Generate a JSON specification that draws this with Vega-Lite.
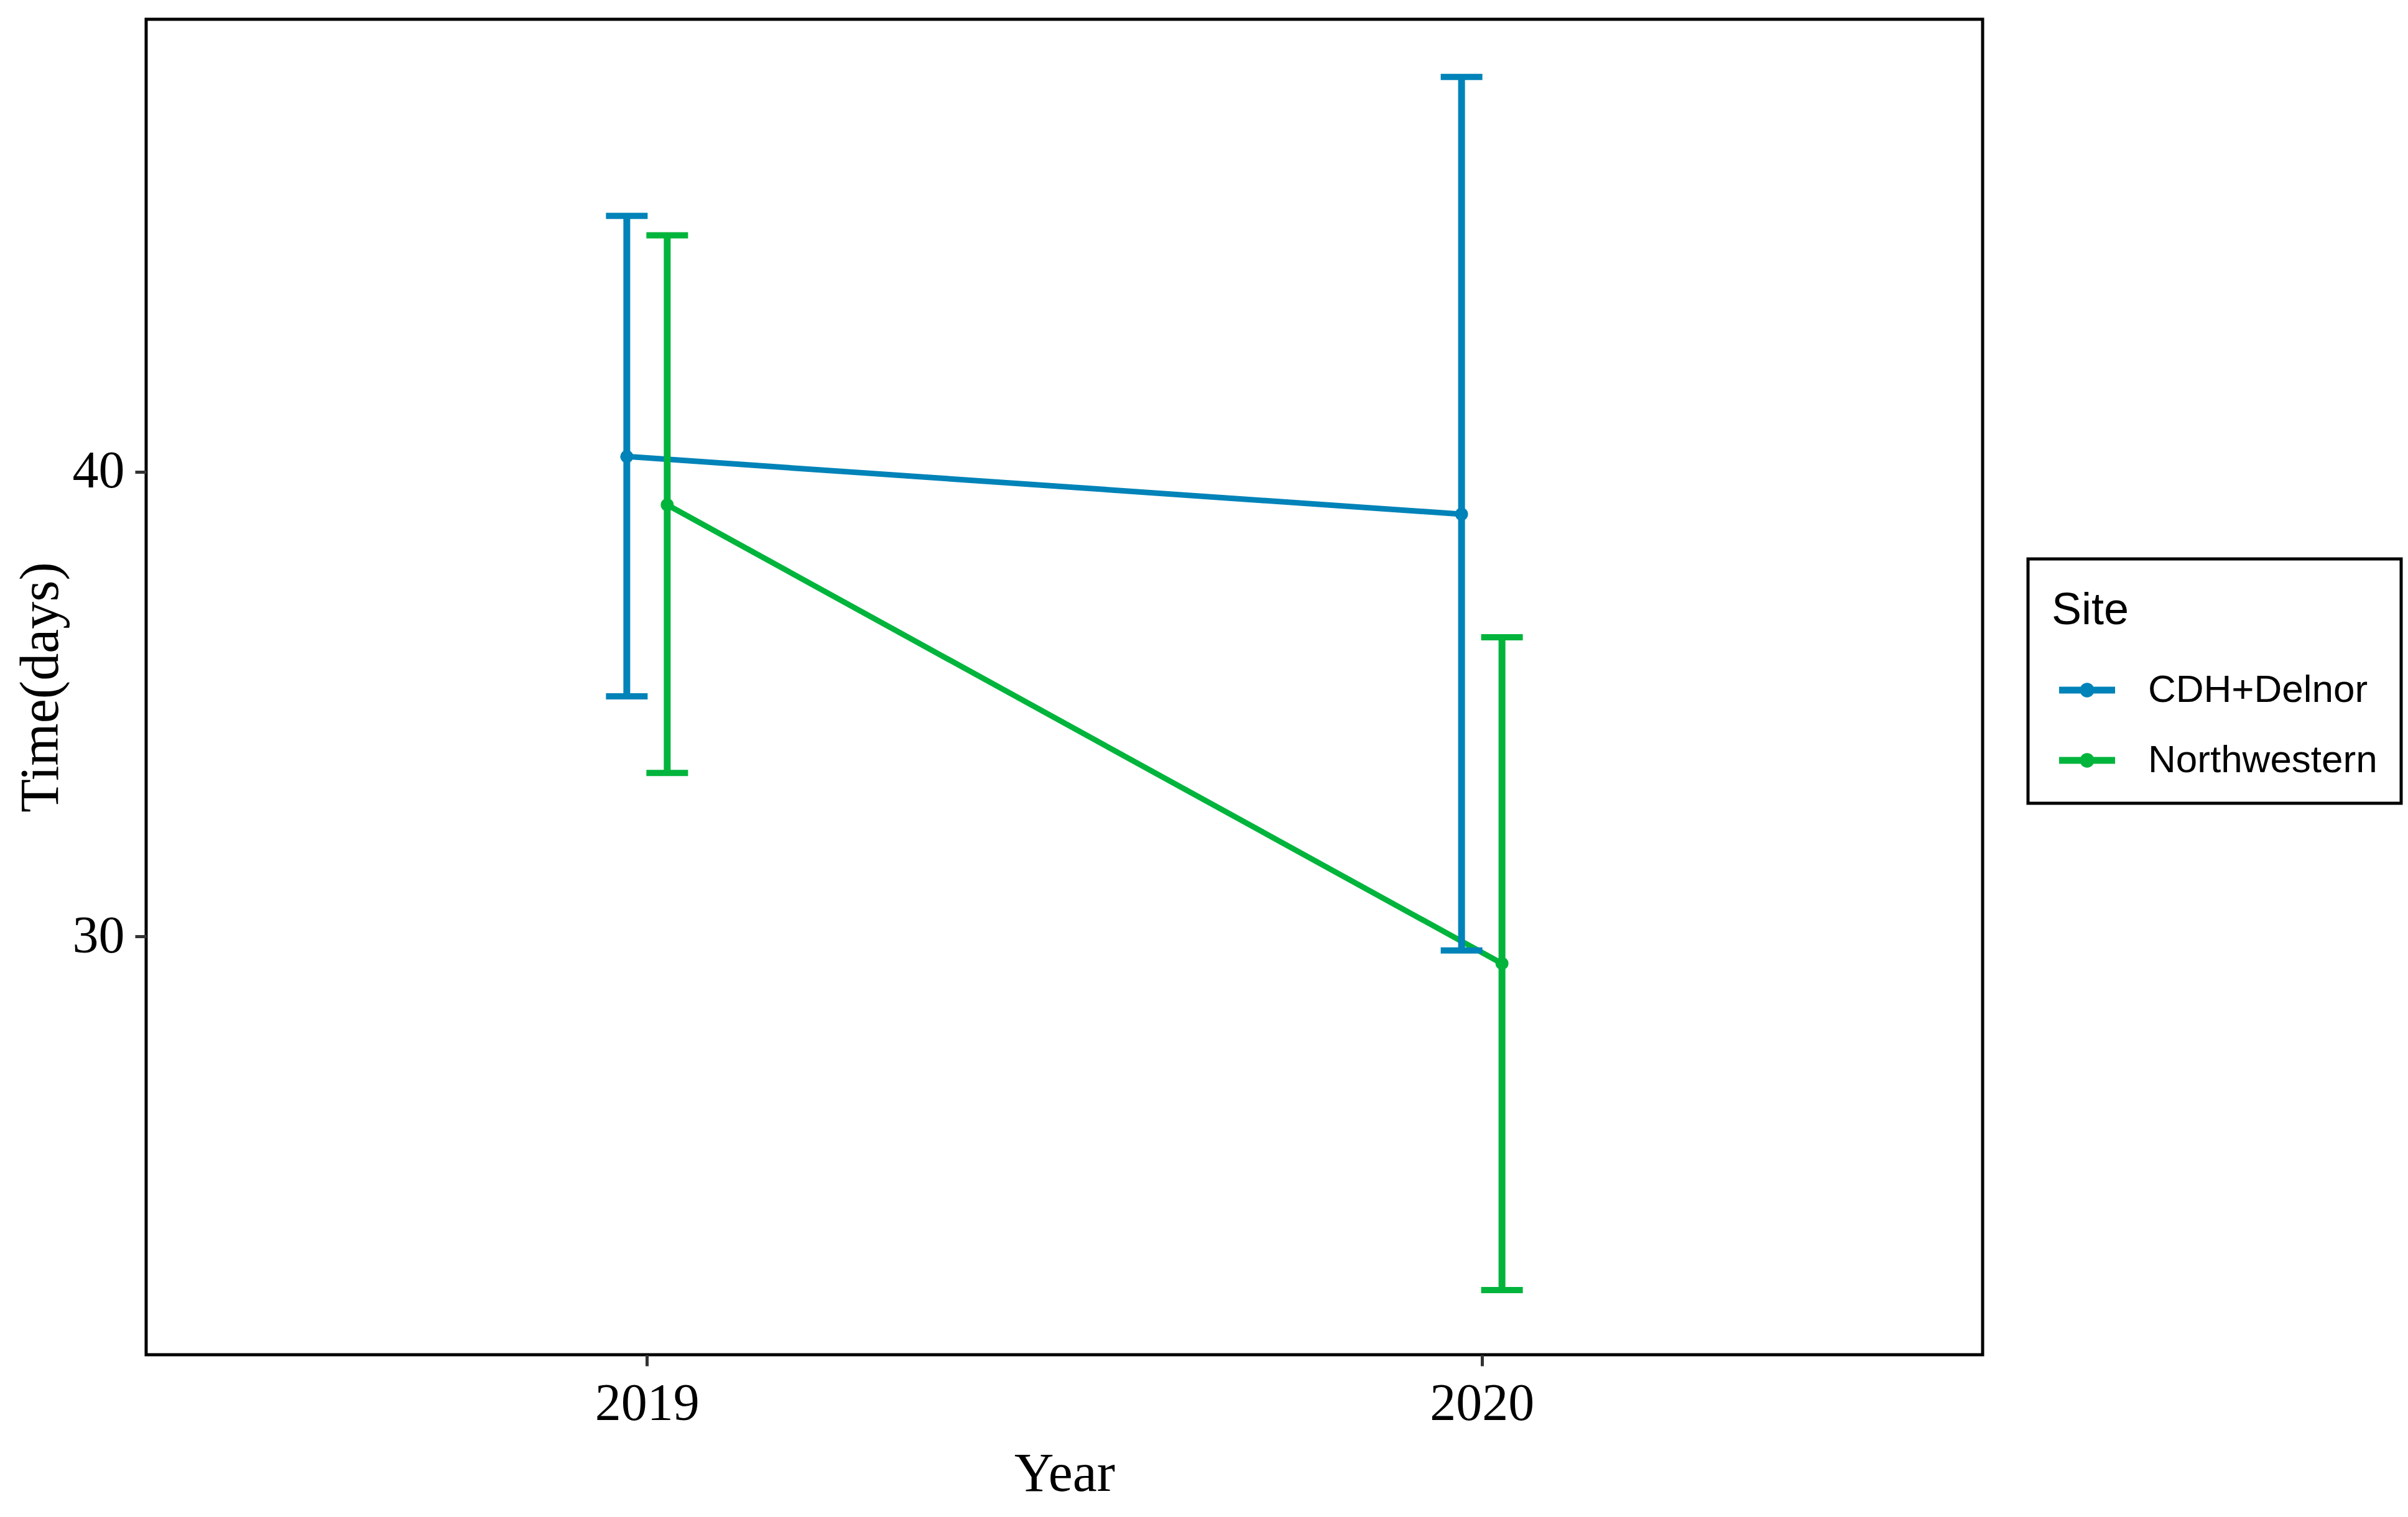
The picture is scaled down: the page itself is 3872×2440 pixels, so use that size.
{
  "$schema": "https://vega.github.io/schema/vega-lite/v6.json",
  "width": 2953,
  "height": 2148,
  "autosize": {"type": "none"},
  "padding": {"left": 235, "top": 31, "right": 684, "bottom": 261},
  "background": "white",
  "config": {
    "view": {"stroke": "black", "strokeWidth": 5},
    "axis": {
      "grid": false,
      "domain": false,
      "tickColor": "#333333",
      "tickWidth": 5,
      "tickSize": 18,
      "labelFont": "Liberation Serif",
      "labelFontSize": 84,
      "labelColor": "black",
      "titleFont": "Liberation Serif",
      "titleFontSize": 88,
      "titleFontWeight": "normal",
      "titleColor": "black"
    }
  },
  "data": {
    "values": [
      {"Site": "CDH+Delnor", "Year": 2019, "Mean": 40.33, "Lower": 35.17, "Upper": 45.51},
      {"Site": "CDH+Delnor", "Year": 2020, "Mean": 39.09, "Lower": 29.70, "Upper": 48.50},
      {"Site": "Northwestern", "Year": 2019, "Mean": 39.29, "Lower": 33.52, "Upper": 45.09},
      {"Site": "Northwestern", "Year": 2020, "Mean": 29.42, "Lower": 22.39, "Upper": 36.44}
    ]
  },
  "encoding": {
    "x": {
      "field": "Year",
      "type": "ordinal",
      "scale": {"type": "point", "padding": 0.6},
      "axis": {"title": "Year", "labelAngle": 0, "labelPadding": 20, "titleBaseline": "alphabetic", "titleY": 218}
    },
    "xOffset": {"field": "Site", "type": "nominal", "scale": {"type": "point", "padding": 0, "range": [-32.5, 32.5]}},
    "color": {
      "field": "Site",
      "type": "nominal",
      "scale": {"domain": ["CDH+Delnor", "Northwestern"], "range": ["#0083B8", "#00B43C"]},
      "legend": {
        "orient": "none",
        "legendX": 3026,
        "legendY": 868,
        "title": "Site",
        "titleFont": "Liberation Sans",
        "titleFontSize": 72,
        "titleFontWeight": "normal",
        "titleColor": "black",
        "titleBaseline": "line-top",
        "titleLineHeight": 92,
        "titlePadding": 56,
        "labelFont": "Liberation Sans",
        "labelFontSize": 62,
        "labelColor": "black",
        "labelLimit": 2000,
        "labelOffset": 53,
        "symbolOffset": 12,
        "symbolType": "M-1,-0.12L1,-0.12L1,0.12L-1,0.12Z M0.26,0A0.26,0.26,0,1,1,-0.26,0A0.26,0.26,0,1,1,0.26,0Z",
        "symbolSize": 8100,
        "symbolStrokeWidth": 0,
        "rowPadding": 37,
        "padding": 38,
        "strokeColor": "black",
        "encoding": {"legend": {"strokeWidth": {"value": 5}}}
      }
    }
  },
  "layer": [
    {
      "mark": {"type": "point", "filled": true, "size": 440, "opacity": 1},
      "encoding": {
        "y": {
          "field": "Mean",
          "type": "quantitative",
          "scale": {"domain": [21.0, 49.74], "nice": false, "zero": false},
          "axis": {"values": [30, 40], "format": "d", "title": "Time(days)", "labelPadding": 17, "titleAngle": -90, "titleBaseline": "alphabetic", "titleX": -143, "titleY": 1074}
        }
      }
    },
    {
      "mark": {"type": "line", "strokeWidth": 9},
      "encoding": {"y": {"field": "Mean", "type": "quantitative"}}
    },
    {
      "mark": {"type": "rule", "strokeWidth": 11},
      "encoding": {
        "y": {"field": "Lower", "type": "quantitative"},
        "y2": {"field": "Upper"}
      }
    },
    {
      "mark": {"type": "tick", "orient": "horizontal", "size": 67, "thickness": 10, "opacity": 1},
      "encoding": {"y": {"field": "Lower", "type": "quantitative"}}
    },
    {
      "mark": {"type": "tick", "orient": "horizontal", "size": 67, "thickness": 10, "opacity": 1},
      "encoding": {"y": {"field": "Upper", "type": "quantitative"}}
    }
  ]
}
